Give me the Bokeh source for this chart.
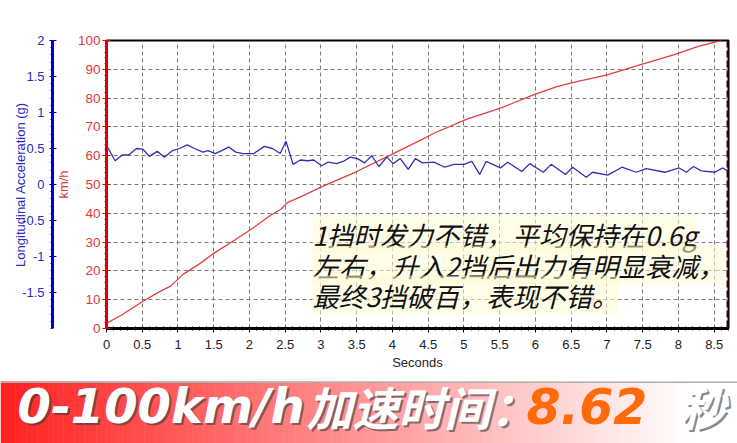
import numpy as np
from bokeh.plotting import figure
from bokeh.models import (Range1d, LinearAxis, FixedTicker, Label, Span)
from bokeh.embed import file_html
from bokeh.resources import INLINE

# ---------------- data ----------------
speed_t = [0.0, 0.2, 0.5, 0.7, 0.9, 1.07, 1.28, 1.5, 1.8, 2.05, 2.3, 2.44, 2.53,
           2.72, 3.0, 3.5, 3.97, 4.4, 4.58, 5.04, 5.51, 5.97, 6.3, 6.53, 6.99,
           7.46, 7.93, 8.3, 8.6]
speed_kmh = [1.8, 4.5, 9.3, 12.2, 14.8, 18.8, 22.1, 26.1, 30.8, 34.9, 39.4, 41.4, 43.7,
             45.8, 49.1, 54.5, 60.2, 65.5, 67.8, 72.7, 76.5, 81.1, 84.0, 85.5, 88.0,
             91.5, 95.0, 98.1, 100.0]

acc_t = [0.02, 0.12, 0.22, 0.31, 0.42, 0.51, 0.60, 0.71, 0.81, 0.92, 1.02, 1.13, 1.23,
         1.35, 1.42, 1.52, 1.61, 1.71, 1.81, 1.91, 2.06, 2.21, 2.32, 2.43, 2.51, 2.61,
         2.71, 2.81, 2.90, 3.01, 3.10, 3.22, 3.31, 3.41, 3.51, 3.61, 3.71, 3.81, 3.92,
         4.01, 4.11, 4.22, 4.32, 4.42, 4.58, 4.73, 4.86, 5.00, 5.11, 5.22, 5.31, 5.51,
         5.61, 5.81, 5.92, 6.11, 6.22, 6.42, 6.52, 6.71, 6.80, 7.01, 7.21, 7.41, 7.55,
         7.81, 8.01, 8.11, 8.21, 8.32, 8.51, 8.62, 8.69]
acc_g = [0.51, 0.33, 0.41, 0.41, 0.50, 0.49, 0.39, 0.46, 0.38, 0.47, 0.50, 0.55, 0.50,
         0.45, 0.47, 0.43, 0.47, 0.52, 0.45, 0.43, 0.43, 0.53, 0.50, 0.43, 0.60, 0.28,
         0.34, 0.33, 0.34, 0.26, 0.31, 0.29, 0.32, 0.38, 0.36, 0.30, 0.40, 0.25, 0.38,
         0.29, 0.36, 0.21, 0.36, 0.30, 0.31, 0.24, 0.28, 0.28, 0.32, 0.14, 0.32, 0.23,
         0.31, 0.18, 0.29, 0.17, 0.28, 0.14, 0.24, 0.10, 0.17, 0.13, 0.24, 0.17, 0.22,
         0.17, 0.23, 0.17, 0.25, 0.19, 0.17, 0.23, 0.19]

x_ticks = [0, 0.5, 1, 1.5, 2, 2.5, 3, 3.5, 4, 4.5, 5, 5.5, 6, 6.5, 7, 7.5, 8, 8.5]
x_tick_labels = ["0", "0.5", "1", "1.5", "2", "2.5", "3", "3.5", "4", "4.5", "5",
                 "5.5", "6", "6.5", "7", "7.5", "8", "8.5"]
kmh_ticks = [0, 10, 20, 30, 40, 50, 60, 70, 80, 90, 100]
acc_ticks = [-1.5, -1, -0.5, 0, 0.5, 1, 1.5, 2]
acc_tick_labels = ["-1.5", "-1", "-0.5", "0", "0.5", "1", "1.5", "2"]

note_lines = ["1挡时发力不错，平均保持在0.6g",
              "左右，升入2挡后出力有明显衰减，",
              "最终3挡破百，表现不错。"]
banner_parts = ["0-100km/h", "加速时间：", "8.62", "秒"]
finish_time = 8.69

TICK_FONT = "Liberation Sans"
RED = "#e00000"
BLUE = "#0000dd"

# ---------------- main chart ----------------
p = figure(width=737, height=373, x_range=Range1d(0, 8.7), y_range=Range1d(0, 100),
           output_backend="svg", toolbar_location=None,
           min_border_left=106, min_border_right=9, min_border_top=40, min_border_bottom=45)
p.background_fill_color = "white"
p.border_fill_color = "white"
p.outline_line_color = "black"
p.outline_line_width = 2

p.extra_y_ranges = {"acc": Range1d(-2, 2)}

# x axis
xa = p.xaxis[0]
xa.ticker = FixedTicker(ticks=x_ticks, minor_ticks=[i / 10 for i in range(0, 88)])
xa.major_label_overrides = {t: l for t, l in zip(x_ticks, x_tick_labels)}
xa.axis_line_color = "black"
xa.axis_line_width = 3
xa.major_tick_line_color = "black"
xa.major_tick_in = 0
xa.major_tick_out = 4
xa.minor_tick_line_color = "black"
xa.minor_tick_in = 2
xa.minor_tick_out = 2
xa.major_label_standoff = 7
xa.major_label_text_font = TICK_FONT
xa.major_label_text_font_size = "13px"
xa.major_label_text_color = "#222222"
xa.axis_label = "Seconds"
xa.axis_label_text_font = TICK_FONT
xa.axis_label_text_font_size = "13px"
xa.axis_label_text_font_style = "normal"
xa.axis_label_text_color = "#222222"
xa.axis_label_standoff = 3

# red km/h axis
ya = p.yaxis[0]
ya.ticker = FixedTicker(ticks=kmh_ticks, minor_ticks=list(range(0, 101, 2)))
ya.axis_line_color = RED
ya.axis_line_width = 3
ya.major_tick_line_color = RED
ya.major_tick_in = 4
ya.major_tick_out = 4
ya.minor_tick_line_color = RED
ya.minor_tick_in = 0
ya.minor_tick_out = 2
ya.major_label_standoff = 2
ya.major_label_text_font = TICK_FONT
ya.major_label_text_font_size = "13.5px"
ya.major_label_text_color = "#e03a3a"
ya.axis_label = "km/h"
ya.axis_label_text_font = TICK_FONT
ya.axis_label_text_font_size = "13px"
ya.axis_label_text_font_style = "normal"
ya.axis_label_text_color = "#e03a3a"
ya.axis_label_standoff = 4

# blue acceleration axis
ba = LinearAxis(y_range_name="acc",
                ticker=FixedTicker(ticks=acc_ticks,
                                   minor_ticks=[round(-2 + i * 0.1, 2) for i in range(41)]))
ba.major_label_overrides = {t: l for t, l in zip(acc_ticks, acc_tick_labels)}
ba.axis_line_color = BLUE
ba.axis_line_width = 3
ba.major_tick_line_color = BLUE
ba.major_tick_in = 4
ba.major_tick_out = 3
ba.minor_tick_line_color = BLUE
ba.minor_tick_in = 0
ba.minor_tick_out = 2
ba.major_label_standoff = 5
ba.major_label_text_font = TICK_FONT
ba.major_label_text_font_size = "13px"
ba.major_label_text_color = "#2a2ac8"
ba.axis_label = "Longitudinal Acceleration (g)"
ba.axis_label_text_font = TICK_FONT
ba.axis_label_text_font_size = "13px"
ba.axis_label_text_font_style = "normal"
ba.axis_label_text_color = "#2a2ac8"
ba.axis_label_standoff = -9
p.add_layout(ba, "left")

# grid
p.xgrid.ticker = FixedTicker(ticks=x_ticks)
p.ygrid.ticker = FixedTicker(ticks=kmh_ticks)
for g in (p.xgrid[0], p.ygrid[0]):
    g.grid_line_color = "#7a7a7a"
    g.grid_line_dash = "4 3"
    g.grid_line_width = 1

# series
p.line(speed_t, speed_kmh, line_color="#e04040", line_width=1.3)
p.line(acc_t, acc_g, y_range_name="acc", line_color="#3030b4", line_width=1.3)

# finish marker
p.add_layout(Span(location=finish_time, dimension="height", line_color="#3a0000",
                  line_width=2.5, line_dash="7 3"))

# annotation
note_y = [32.8, 22.0, 11.6]
for txt, yy in zip(note_lines, note_y):
    p.add_layout(Label(x=2.88, y=yy, text=txt, text_font="Noto Sans CJK SC",
                       text_font_size="26.5px", text_font_style="italic",
                       text_color="#111111", text_baseline="middle", text_align="left",
                       background_fill_color="#fffbd6", background_fill_alpha=0.55))

# ---------------- banner ----------------
BH = 70      # figure height (top 8px stay white)
GH = 62      # gradient band height
b = figure(width=737, height=BH, x_range=Range1d(0, 737), y_range=Range1d(0, BH),
           output_backend="svg", toolbar_location=None, min_border=0,
           x_axis_location=None, y_axis_location=None)
b.grid.visible = False
b.outline_line_color = None
b.background_fill_color = "white"
b.border_fill_color = "white"

n = 200
edges = np.linspace(0, 737, n + 1)
cols = []
for i in range(n):
    f = min(1.0, ((edges[i] + edges[i + 1]) / 2) / 690.0)
    gch = int(round(32 + (255 - 32) * f))
    cols.append("#%02x%02x%02x" % (255, gch, gch))
b.quad(left=edges[:-1], right=edges[1:] + 0.5, bottom=0, top=GH, fill_color=cols,
       line_color=None)
b.add_layout(Span(location=GH - 0.7, dimension="width", line_color="#b0b0b0", line_width=1.5))

TY = 37.5
specs = [
    (banner_parts[0], 17, "DejaVu Sans", "48px", "white", True),
    (banner_parts[1], 306, "Noto Sans CJK SC", "46px", "white", True),
    (banner_parts[2], 526, "DejaVu Sans", "49px", "#ff6a0a", False),
    (banner_parts[3], 679, "Noto Sans CJK SC", "46px", "white", True),
]
for txt, xx, font, size, color, shadow in specs:
    if shadow:
        b.add_layout(Label(x=xx, y=TY, text=txt, text_font=font, text_font_size=size,
                           text_font_style="bold italic", text_color="#3a3a3a",
                           text_alpha=0.6, text_baseline="middle", x_offset=2, y_offset=-2))
    b.add_layout(Label(x=xx, y=TY, text=txt, text_font=font, text_font_size=size,
                       text_font_style="bold italic", text_color=color,
                       text_baseline="middle"))

open("out.html", "w").write(file_html([p, b], INLINE))
